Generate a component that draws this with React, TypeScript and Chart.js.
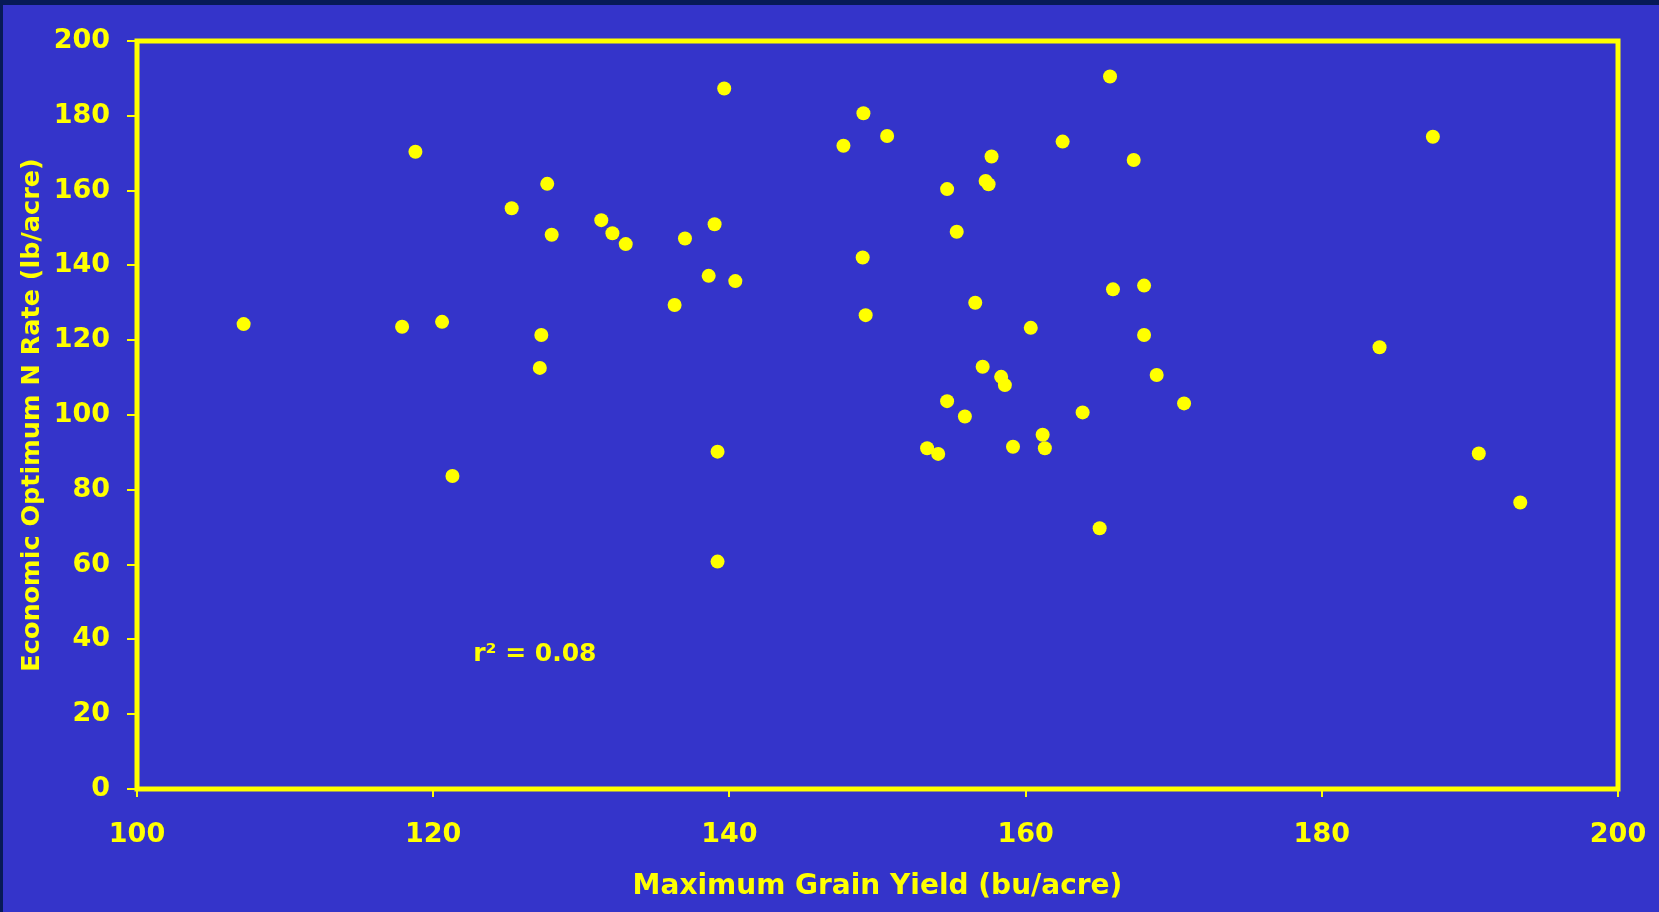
import React, { useEffect, useRef } from "react";
import { Chart, registerables } from "chart.js";

Chart.register(...registerables);

// Maximum grain yield (bu/acre)
const yieldX = [
  107.2, 117.9, 118.8, 120.6, 121.3, 125.3, 127.7, 128.0, 127.3, 127.2,
  131.35, 132.1, 133.0, 137.0, 139.0, 136.3, 138.6, 140.4, 139.65, 139.2,
  139.2, 147.7, 149.05, 150.65, 149.0, 149.2, 153.35, 154.1, 154.7, 155.35,
  154.7, 155.9, 156.6, 157.1, 157.3, 157.5, 157.7, 158.35, 158.6, 159.15,
  160.35, 161.15, 161.3, 162.5, 163.85, 165.0, 165.7, 165.9, 167.3, 168.0,
  168.0, 168.85, 170.7, 183.9, 187.5, 190.6, 193.4,
];
// Economic optimum N rate (lb/acre)
const nRateY = [
  124.3, 123.6, 170.4, 124.9, 83.7, 155.3, 161.8, 148.2, 121.4, 112.6,
  152.1, 148.6, 145.7, 147.2, 151.0, 129.4, 137.2, 135.8, 187.3, 90.2,
  60.8, 172.0, 180.7, 174.6, 142.1, 126.7, 91.1, 89.6, 160.4, 149.0,
  103.7, 99.6, 130.0, 112.9, 162.6, 161.7, 169.1, 110.2, 108.0, 91.5,
  123.3, 94.7, 91.1, 173.1, 100.7, 69.7, 190.5, 133.6, 168.2, 134.6,
  121.4, 110.7, 103.1, 118.1, 174.4, 89.7, 76.6,
];

const xTicks = [100, 120, 140, 160, 180, 200];
const yTicks = [0, 20, 40, 60, 80, 100, 120, 140, 160, 180, 200];
const xTitle = "Maximum Grain Yield (bu/acre)";
const yTitle = "Economic Optimum N Rate (lb/acre)";
const noteText = "r\u00B2 = 0.08";
const noteAt = { x: 122.7, y: 36.0 };

const YELLOW = "#ffff00";
const BLUE = "#3434ca";
const NAVY = "#071a57";
const FONT = "'DejaVu Sans', 'Liberation Sans', sans-serif";

export default function App() {
  const ref = useRef<HTMLCanvasElement | null>(null);

  useEffect(() => {
    if (!ref.current) return;
    const framePlugin = {
      id: "frame",
      beforeDatasetsDraw(chart: any) {
        const { ctx, chartArea } = chart;
        ctx.save();
        ctx.strokeStyle = YELLOW;
        ctx.lineWidth = 5;
        ctx.strokeRect(
          chartArea.left,
          chartArea.top,
          chartArea.right - chartArea.left,
          chartArea.bottom - chartArea.top
        );
        ctx.restore();
      },
      afterDatasetsDraw(chart: any) {
        const { ctx, scales } = chart;
        ctx.save();
        ctx.fillStyle = YELLOW;
        ctx.font = `bold 25px ${FONT}`;
        ctx.textAlign = "left";
        ctx.textBaseline = "middle";
        ctx.fillText(
          noteText,
          scales.x.getPixelForValue(noteAt.x),
          scales.y.getPixelForValue(noteAt.y)
        );
        ctx.restore();
      },
    };

    const chart = new Chart(ref.current, {
      type: "scatter",
      data: {
        datasets: [
          {
            data: yieldX.map((x, i) => ({ x, y: nRateY[i] })),
            backgroundColor: YELLOW,
            borderColor: YELLOW,
            pointRadius: 7,
            pointBorderWidth: 0,
          },
        ],
      },
      options: {
        animation: false,
        responsive: false,
        devicePixelRatio: 1,
        layout: { padding: { top: 36, right: 41, bottom: 0, left: 0 } },
        plugins: { legend: { display: false }, tooltip: { enabled: false } },
        scales: {
          x: {
            type: "linear",
            min: 100,
            max: 200,
            afterBuildTicks: (s: any) => {
              s.ticks = xTicks.map((v) => ({ value: v }));
            },
            afterFit: (s: any) => {
              s.height = 123;
              s.paddingRight = 30;
              s.paddingLeft = 30;
            },
            border: { display: false },
            grid: {
              display: true,
              drawOnChartArea: false,
              drawTicks: true,
              tickLength: 8,
              color: YELLOW,
              lineWidth: 2,
            },
            ticks: {
              color: YELLOW,
              padding: 22,
              maxRotation: 0,
              font: { family: FONT, size: 27, weight: "bold" },
            },
            title: {
              display: true,
              text: xTitle,
              color: YELLOW,
              padding: { top: 0, bottom: 8 },
              font: { family: FONT, size: 28, weight: "bold" },
            },
          },
          y: {
            type: "linear",
            min: 0,
            max: 200,
            afterBuildTicks: (s: any) => {
              s.ticks = yTicks.map((v) => ({ value: v }));
            },
            afterFit: (s: any) => {
              s.width = 134;
              s.paddingTop = 20;
              s.paddingBottom = 20;
            },
            border: { display: false },
            grid: {
              display: true,
              drawOnChartArea: false,
              drawTicks: true,
              tickLength: 10,
              color: YELLOW,
              lineWidth: 2,
            },
            ticks: {
              color: YELLOW,
              padding: 17,
              font: { family: FONT, size: 27, weight: "bold" },
            },
            title: {
              display: true,
              text: yTitle,
              color: YELLOW,
              padding: { top: 14, bottom: 0 },
              font: { family: FONT, size: 25.5, weight: "bold" },
            },
          },
        },
      },
      plugins: [framePlugin],
    } as any);
    return () => chart.destroy();
  }, []);

  return (
    <div
      style={{
        position: "fixed",
        left: 0,
        top: 0,
        width: 1659,
        height: 912,
        background: NAVY,
        overflow: "hidden",
      }}
    >
      <canvas
        ref={ref}
        width={1656}
        height={907}
        style={{
          position: "absolute",
          left: 3,
          top: 5,
          width: 1656,
          height: 907,
          background: BLUE,
        }}
      />
    </div>
  );
}
